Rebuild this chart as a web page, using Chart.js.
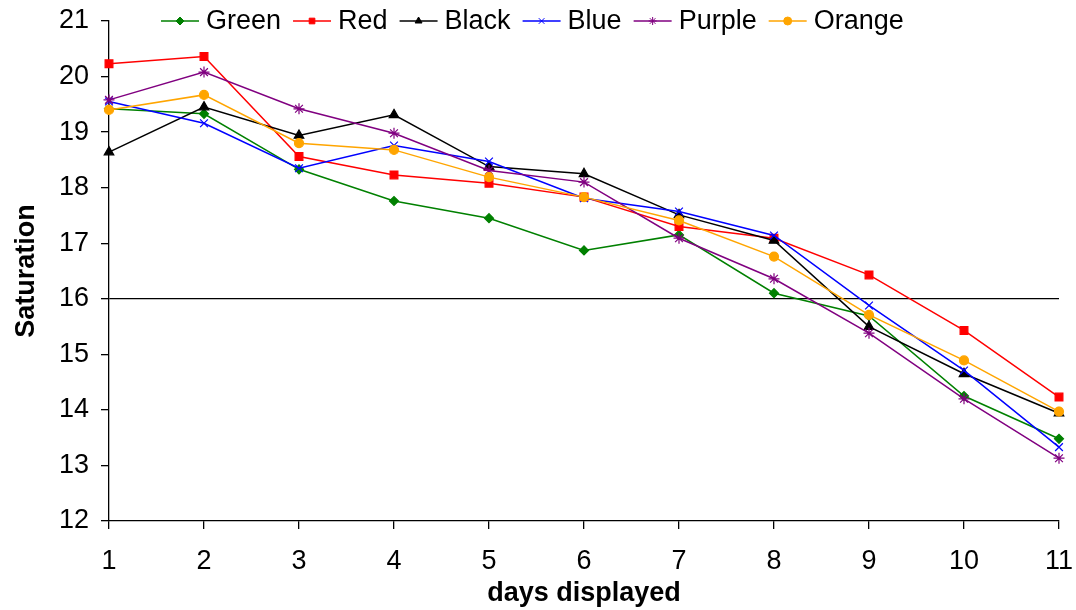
<!DOCTYPE html>
<html>
<head>
<meta charset="utf-8">
<script src="https://cdn.jsdelivr.net/npm/chart.js@4.4.0/dist/chart.umd.min.js"></script>
<style>
  html, body { margin: 0; padding: 0; background: #fff; }
</style>
</head>
<body>
<canvas id="chart" width="1076" height="610"></canvas>
<script>
// 数据
const days = ['1', '2', '3', '4', '5', '6', '7', '8', '9', '10', '11']
const seriesNames = ['Green', 'Red', 'Black', 'Blue', 'Purple', 'Orange']
const green  = [19.42, 19.33, 18.33, 17.76, 17.45, 16.87, 17.15, 16.10, 15.69, 14.25, 13.48]
const red    = [20.23, 20.36, 18.56, 18.23, 18.08, 17.83, 17.30, 17.09, 16.43, 15.43, 14.23]
const black  = [18.64, 19.45, 18.94, 19.31, 18.38, 18.25, 17.51, 17.05, 15.50, 14.65, 13.94]
const blue   = [19.55, 19.16, 18.35, 18.76, 18.47, 17.81, 17.57, 17.14, 15.88, 14.71, 13.33]
const purple = [19.58, 20.08, 19.42, 18.98, 18.31, 18.10, 17.09, 16.36, 15.38, 14.20, 13.13]
const orange = [19.40, 19.67, 18.80, 18.68, 18.19, 17.83, 17.41, 16.76, 15.71, 14.89, 13.97]
const yMin = 12
const yMax = 21
const referenceLevel = 16 // 横线

const FONT = '"Liberation Sans", Arial, sans-serif'

// 样式
const styles = [
  { color: '#008000', point: 'rectRot', radius: 4.5 },
  { color: '#FF0000', point: 'rect', radius: 5.5 },
  { color: '#000000', point: 'triangle', radius: 5.5 },
  { color: '#0000FF', point: 'crossRot', radius: 5.5 },
  { color: '#800080', point: 'star', radius: 5.5 },
  { color: '#FFA500', point: 'circle', radius: 4.5 }
]
const values = [green, red, black, blue, purple, orange]

const datasets = seriesNames.map((name, i) => ({
  label: name,
  data: values[i],
  borderColor: styles[i].color,
  backgroundColor: styles[i].color,
  pointBackgroundColor: styles[i].color,
  pointBorderColor: styles[i].color,
  pointStyle: styles[i].point,
  pointRadius: styles[i].radius,
  pointBorderWidth: 1.2,
  borderWidth: 1.5,
  tension: 0,
  fill: false,
  clip: false,
  order: seriesNames.length - i // 后面的系列画在上面
}))

// 图例：线 + 标记
const lineLegend = {
  id: 'lineLegend',
  afterDraw(chart) {
    const ctx = chart.ctx
    const y = 21
    let x = 161
    ctx.save()
    ctx.font = '27px ' + FONT
    ctx.textBaseline = 'middle'
    ctx.textAlign = 'left'
    chart.data.datasets.forEach(ds => {
      ctx.strokeStyle = ds.borderColor
      ctx.lineWidth = 1.5
      ctx.beginPath()
      ctx.moveTo(x, y)
      ctx.lineTo(x + 38, y)
      ctx.stroke()
      ctx.fillStyle = ds.pointBackgroundColor
      ctx.strokeStyle = ds.pointBorderColor
      ctx.lineWidth = 1
      Chart.helpers.drawPoint(ctx, { pointStyle: ds.pointStyle, rotation: 0, borderWidth: 1, radius: 4 }, x + 19, y)
      ctx.fillStyle = '#000'
      ctx.fillText(ds.label, x + 45, y + 1)
      x += 45 + ctx.measureText(ds.label).width + 12
    })
    ctx.restore()
  }
}

new Chart(document.getElementById('chart'), {
  type: 'line',
  data: { labels: days, datasets },
  plugins: [lineLegend],
  options: {
    responsive: false,
    animation: false,
    devicePixelRatio: 1,
    layout: { padding: { left: 0, right: 17, top: 21, bottom: 0 } },
    plugins: {
      legend: { display: false },
      tooltip: { enabled: false }
    },
    scales: {
      x: {
        type: 'category',
        offset: false,
        ticks: { font: { family: FONT, size: 27 }, color: '#000', padding: 16, maxRotation: 0, autoSkip: false },
        grid: { drawOnChartArea: false, tickLength: 8, tickColor: '#000', lineWidth: 1.3 },
        border: { color: '#000', width: 1.3 },
        title: { display: true, text: 'days displayed', color: '#000', font: { family: FONT, size: 27, weight: 'bold' }, padding: { top: 0, bottom: 0 } },
        afterFit(scale) {
          scale.height = 89
          scale.paddingLeft = 0
          scale.paddingRight = 0
        }
      },
      y: {
        min: yMin,
        max: yMax,
        ticks: { stepSize: 1, font: { family: FONT, size: 27 }, color: '#000', padding: 12 },
        grid: {
          color: c => (c.tick && c.tick.value === referenceLevel ? '#000' : 'rgba(0,0,0,0)'),
          tickColor: '#000',
          tickLength: 8,
          lineWidth: 1.3
        },
        border: { color: '#000', width: 1.3 },
        title: { display: true, text: 'Saturation', color: '#000', font: { family: FONT, size: 27, weight: 'bold' }, padding: { top: 10, bottom: 0 } },
        afterFit(scale) {
          scale.width = 109
          scale.paddingTop = 0
          scale.paddingBottom = 0
        }
      }
    }
  }
})
</script>
</body>
</html>
